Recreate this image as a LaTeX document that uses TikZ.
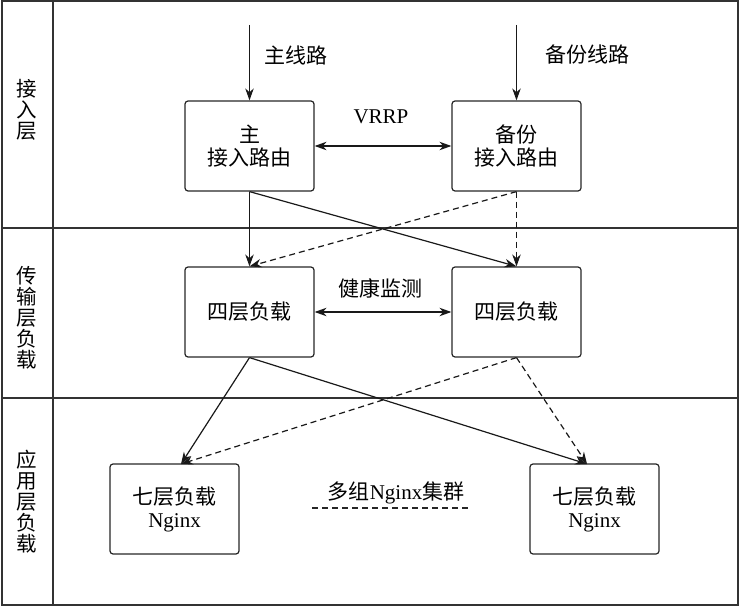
\documentclass[tikz,border=0pt]{standalone}
\usepackage{fontspec}
\setmainfont{Liberation Serif}
\newfontfamily\cjk{Noto Sans CJK SC}
\usetikzlibrary{arrows.meta}
\tikzset{
  box/.style={draw=black!85, line width=1.2pt, rounded corners=3pt, minimum width=129pt, minimum height=90pt, inner sep=0pt, align=center, font=\fontsize{21}{23}\selectfont},
  lbl/.style={inner sep=0pt, font=\fontsize{21}{23}\selectfont},
  vlbl/.style={inner sep=0pt, align=center, font=\fontsize{20.5}{21}\selectfont\cjk},
  frame/.style={draw=black!80, line width=1.2pt},
  arr/.style={draw=black!90, line width=1.2pt, -{Stealth[length=12pt,width=8.5pt]}},
  darr/.style={arr, dash pattern=on 6pt off 4pt},
  dbl/.style={draw=black!90, line width=1.2pt, {Stealth[length=12pt,width=8.5pt]}-{Stealth[length=12pt,width=8.5pt]}}
}
\begin{document}
\begin{tikzpicture}[x=1pt,y=-1pt]
\useasboundingbox (0,0) rectangle (740,607);
% frame
\draw[frame] (2,1) rectangle (738,605);
\draw[frame] (53,1) -- (53,605);
\draw[frame] (2,228) -- (738,228);
\draw[frame] (2,398) -- (738,398);
% layer labels
\node[vlbl] (L1) at (27,110) {接\\入\\层};
\node[vlbl] (L2) at (27,318) {传\\输\\层\\负\\载};
\node[vlbl] (L3) at (27,502) {应\\用\\层\\负\\载};
% boxes
\node[box] (r1) at (249.5,146) {{\cjk 主}\\{\cjk 接入路由}};
\node[box] (r2) at (516.5,146) {{\cjk 备份}\\{\cjk 接入路由}};
\node[box] (f1) at (249.5,312) {\cjk 四层负载};
\node[box] (f2) at (516.5,312) {\cjk 四层负载};
\node[box] (s1) at (174.5,509) {{\cjk 七层负载}\\Nginx};
\node[box] (s2) at (594.5,509) {{\cjk 七层负载}\\Nginx};
% incoming lines
\coordinate (in1) at (249.5,25);
\coordinate (in2) at (516.5,25);
\draw[arr] (in1) -- (r1.north);
\draw[arr] (in2) -- (r2.north);
\node[lbl, anchor=west] (t1) at (264,55) {\cjk 主线路};
\node[lbl, anchor=west] (t2) at (545,55) {\cjk 备份线路};
% VRRP
\draw[dbl] (r1.east) -- (r2.west);
\node[lbl] (vrrp) at (381,117) {VRRP};
% router -> layer4
\draw[arr] (r1.south) -- (f1.north);
\draw[arr] (r1.south) -- (f2.north);
\draw[darr] (r2.south) -- (f1.north);
\draw[darr] (r2.south) -- (f2.north);
% health check
\draw[dbl] (f1.east) -- (f2.west);
\node[lbl] (hc) at (380.5,288) {\cjk 健康监测};
% layer4 -> layer7
\coordinate (s1in) at (181,464);
\coordinate (s2in) at (587,464);
\draw[arr] (f1.south) -- (s1in);
\draw[arr] (f1.south) -- (s2in);
\draw[darr] (f2.south) -- (s1in);
\draw[darr] (f2.south) -- (s2in);
% cluster note
\node[lbl] (cl) at (396,493) {{\cjk 多组}Nginx{\cjk 集群}};
\coordinate (cla) at (312,508);
\coordinate (clb) at (468,508);
\draw[draw=black!85, line width=1.2pt, dash pattern=on 6pt off 4pt] (cla) -- (clb);
\end{tikzpicture}
\end{document}
